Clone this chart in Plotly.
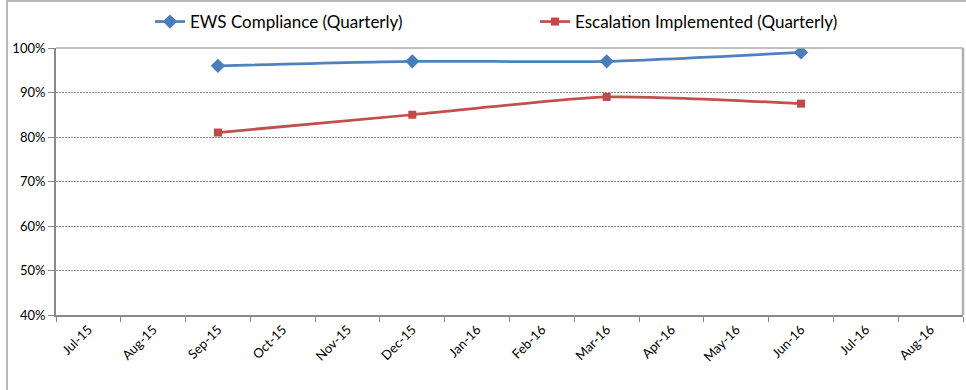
import plotly.graph_objects as go

# Monthly category axis (Jul-15 .. Aug-16); quarterly readings on their month
months = ["Jul-15", "Aug-15", "Sep-15", "Oct-15", "Nov-15", "Dec-15", "Jan-16",
          "Feb-16", "Mar-16", "Apr-16", "May-16", "Jun-16", "Jul-16", "Aug-16"]
quarters = ["Sep-15", "Dec-15", "Mar-16", "Jun-16"]
ews_compliance = [0.96, 0.97, 0.97, 0.99]
escalation_implemented = [0.81, 0.85, 0.89, 0.875]

FONT = "Lato"
AXIS_GREY = "#8a8a8a"

W, H = 966, 390
L, R, T, B = 56, 3, 48, 75
pw, ph = W - L - R, H - T - B

fig = go.Figure()
fig.add_trace(go.Scatter(
    x=quarters, y=ews_compliance, name="EWS Compliance (Quarterly)",
    mode="lines+markers",
    line=dict(color="#4F81BD", width=2.75, shape="spline", smoothing=0.6),
    marker=dict(symbol="diamond", size=11, color="#4A7EBB"),
))
fig.add_trace(go.Scatter(
    x=quarters, y=escalation_implemented, name="Escalation Implemented (Quarterly)",
    mode="lines+markers",
    line=dict(color="#C0504D", width=2.75, shape="spline", smoothing=0.6),
    marker=dict(symbol="square", size=8, color="#BE4B48"),
))

fig.update_xaxes(
    type="category",
    categoryorder="array", categoryarray=months,
    range=[-0.5, len(months) - 0.5],
    tickson="boundaries",
    tickangle=-45,
    ticks="outside", ticklen=5, tickcolor=AXIS_GREY, tickwidth=1,
    showline=True, linecolor=AXIS_GREY, linewidth=2,
    showgrid=False, zeroline=False,
    tickfont=dict(family=FONT, size=13, color="#000000"),
)
fig.update_yaxes(
    range=[0.4, 1.0], dtick=0.1, tickformat=".0%",
    ticks="outside", ticklen=6, tickcolor=AXIS_GREY, tickwidth=1,
    showline=True, linecolor=AXIS_GREY, linewidth=2,
    showgrid=True, gridcolor="#8c8c8c", griddash="2px,1px", gridwidth=1,
    zeroline=False,
    tickfont=dict(family=FONT, size=13, color="#000000"),
)

# plot-area border (top and right) and outer chart frame
fig.add_shape(type="line", xref="paper", yref="paper", x0=0, x1=1, y0=1, y1=1,
              line=dict(color="#a8a8a8", width=1.5))
fig.add_shape(type="line", xref="paper", yref="paper", x0=1, x1=1, y0=0, y1=1,
              line=dict(color="#b0b0b0", width=2.5))
fig.add_shape(type="rect", xref="paper", yref="paper",
              x0=(7 - L) / pw, x1=(W + 10 - L) / pw,
              y0=-(B + 10) / ph, y1=1 + (T - 1) / ph,
              line=dict(color="#b8b8b8", width=2), layer="below")

fig.update_layout(
    width=W, height=H,
    margin=dict(l=L, r=R, t=T, b=B),
    paper_bgcolor="white", plot_bgcolor="white",
    font=dict(family=FONT, size=13, color="#000000"),
    showlegend=True,
    legend=dict(
        orientation="h", x=(150 - L) / pw, xanchor="left",
        y=1 + (T - 22) / ph, yanchor="middle",
        font=dict(family=FONT, size=17, color="#000000"),
        entrywidth=340, entrywidthmode="pixels",
        bgcolor="rgba(0,0,0,0)",
    ),
)

fig.write_html("out.html")
